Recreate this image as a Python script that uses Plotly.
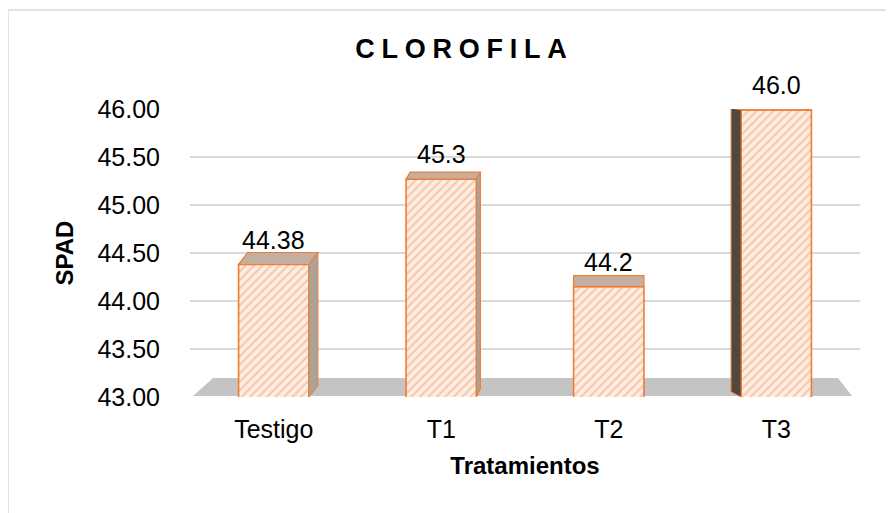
import plotly.graph_objects as go

categories = ["Testigo", "T1", "T2", "T3"]
values = [44.38, 45.27, 44.15, 45.99]
labels = ["44.38", "45.3", "44.2", "46.0"]
y_ticks = [43.0, 43.5, 44.0, 44.5, 45.0, 45.5, 46.0]

# page offset (browser body margin) compensation
OFF = 8
W, H = 894 - OFF, 513 - OFF
L, R, T, B = 190 - OFF, 34, 109 - OFF, 116
pw, ph = W - L - R, H - T - B
Y0, Y1 = 43.0, 46.0
BAR_W = 0.42
FONT = "Liberation Sans, Arial"

def px(x):  # reference pixel x -> paper
    return (x - OFF - L) / pw

def py(y):  # reference pixel y -> paper
    return (H - B - (y - OFF)) / ph

xs = list(range(len(categories)))

fig = go.Figure()
fig.add_trace(go.Bar(
    x=xs, y=values, width=BAR_W, cliponaxis=False,
    marker=dict(
        color="#FDE9DA",
        line=dict(color="#ED7D31", width=1.6),
        pattern=dict(shape="/", fgcolor="#F0A070", bgcolor="#FDEDE2", size=6, solidity=0.35),
    ),
    hoverinfo="skip",
))

# 3D faces (perspective offsets in px per bar: back-face shift x, up y)
persp = [(9, 12), (4, 7), (0, 11), (-10, 2)]
ux = pw / 4.0          # px per category unit
uy = ph / (Y1 - Y0)    # px per value unit
shapes = [
    dict(type="rect", xref="paper", yref="paper", x0=px(8), x1=px(W + 20), y0=py(H + 20), y1=py(10),
         line=dict(color="#D9D9D9", width=1.5), fillcolor="rgba(0,0,0,0)", layer="below"),
    dict(type="path", xref="paper", yref="paper",
         path=f"M {px(193)} {py(396)} L {px(852)} {py(396)} L {px(838)} {py(378)} L {px(213)} {py(378)} Z",
         fillcolor="#C4C4C4", line=dict(width=0), layer="below"),
]
for i, v in enumerate(values):
    dx, dy = persp[i]
    ddx, ddy = dx / ux, dy / uy
    xl, xr = i - BAR_W / 2, i + BAR_W / 2
    # top face
    shapes.append(dict(
        type="path", xref="x", yref="y", layer="above",
        path=f"M {xl} {v} L {xr} {v} L {xr + ddx} {v + ddy} L {xl + ddx} {v + ddy} Z",
        fillcolor="#C2AFA2", line=dict(color="#ED7D31", width=1.2)))
    # side face
    if dx == 0:
        continue
    if dx > 0:
        xs0, col = xr, "#ADA29A"
    else:
        xs0, col = xl, "#4E4742"
    floor_y = Y0 + 4 / uy
    shapes.append(dict(
        type="path", xref="x", yref="y", layer="above",
        path=f"M {xs0} {v} L {xs0 + ddx} {v + ddy} L {xs0 + ddx} {floor_y + ddy * 0.6} L {xs0} {Y0} Z",
        fillcolor=col, line=dict(color="#ED7D31", width=1.0)))

annotations = [
    dict(x=i, y=v, xref="x", yref="y", text=lab, showarrow=False, yanchor="bottom", yshift=9,
         font=dict(family=FONT, size=25, color="#000000"))
    for i, (v, lab) in enumerate(zip(values, labels))
]

fig.update_layout(
    width=W, height=H,
    margin=dict(l=L, r=R, t=T, b=B),
    paper_bgcolor="white", plot_bgcolor="white",
    showlegend=False,
    shapes=shapes,
    annotations=annotations,
    title=dict(text="\u2005".join("CLOROFILA"), x=(461 - OFF) / W, xanchor="center",
               y=1 - (48.5 - OFF) / H, yanchor="middle",
               font=dict(family=FONT, size=27, color="#000000", weight="bold")),
    xaxis=dict(
        range=[-0.5, 3.5], tickvals=xs, ticktext=categories,
        showgrid=False, showline=False, zeroline=False, ticks="",
        tickfont=dict(family=FONT, size=25, color="#000000"),
        ticklabelstandoff=15,
        title=dict(text="<b>Tratamientos</b>", standoff=15,
                   font=dict(family=FONT, size=24, color="#000000")),
    ),
    yaxis=dict(
        range=[Y0, Y1], tickvals=y_ticks, tickformat=".2f",
        showgrid=True, gridcolor="#D9D9D9", gridwidth=1.8, zeroline=False, showline=False, ticks="",
        tickfont=dict(family=FONT, size=25, color="#000000"),
        ticklabelstandoff=29,
        title=dict(text="<b>SPAD</b>", standoff=17,
                   font=dict(family=FONT, size=24, color="#000000")),
    ),
)

fig.write_html("out.html")
